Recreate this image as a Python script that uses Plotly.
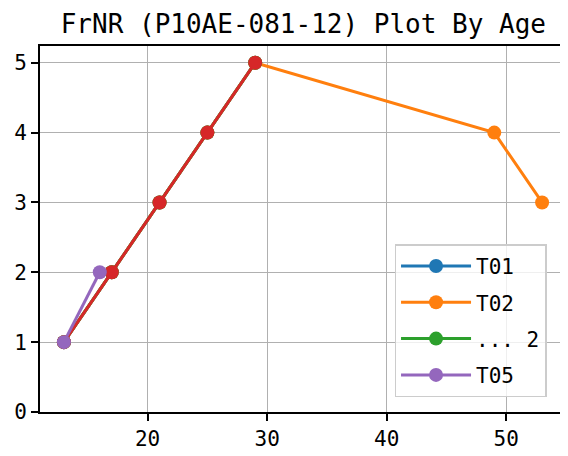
import plotly.graph_objects as go

# Data (age vs FrNR)
t01_age = [13, 17, 21, 25, 29]
t01_val = [1, 2, 3, 4, 5]
t02_age = [13, 17, 21, 25, 29, 49, 53]
t02_val = [1, 2, 3, 4, 5, 4, 3]
t03_age = [13, 17, 21, 25, 29]
t03_val = [1, 2, 3, 4, 5]
t04_age = [13, 17, 21, 25, 29]
t04_val = [1, 2, 3, 4, 5]
t05_age = [13, 16]
t05_val = [1, 2]

series = [
    ('T01', t01_age, t01_val, '#1f77b4', True),
    ('T02', t02_age, t02_val, '#ff7f0e', True),
    ('... 2', t03_age, t03_val, '#2ca02c', True),
    ('T04', t04_age, t04_val, '#d62728', False),
    ('T05', t05_age, t05_val, '#9467bd', True),
]

font = 'DejaVu Sans Mono, monospace'

fig = go.Figure()
for name, x, y, color, show in series:
    fig.add_trace(go.Scatter(x=x, y=y, name=name, mode='lines+markers', legendgroup=name,
                             line={'color': color, 'width': 3},
                             marker={'color': color, 'size': 14},
                             showlegend=show))

# page body adds ~8px offset, margins compensate
fig.update_layout(
    width=568, height=456,
    margin={'l': 32, 'r': 10, 't': 38, 'b': 52},
    plot_bgcolor='white', paper_bgcolor='white',
    font={'family': font, 'size': 21, 'color': 'black'},
    title={'text': 'FrNR (P10AE-081-12) Plot By Age', 'x': 0.52, 'xanchor': 'center',
           'y': 0.966, 'yanchor': 'middle', 'font': {'size': 26}},
    legend={'x': 0.963, 'xanchor': 'right', 'y': 0.04, 'yanchor': 'bottom',
            'bgcolor': 'rgba(255,255,255,0.8)', 'bordercolor': '#cccccc', 'borderwidth': 1.5,
            'font': {'size': 21}, 'tracegroupgap': 6, 'itemwidth': 70},
)
fig.update_xaxes(range=[11, 55], tickvals=[20, 30, 40, 50], showgrid=True, gridcolor='#b0b0b0',
                 gridwidth=1.3, showline=True, linecolor='black', linewidth=2, mirror=True,
                 automargin=False, ticks='outside', ticklen=7, tickwidth=1.5, tickcolor='black',
                 zeroline=False)
fig.update_yaxes(range=[0, 5.24], tickvals=[0, 1, 2, 3, 4, 5], showgrid=True, gridcolor='#b0b0b0',
                 gridwidth=1.3, showline=True, linecolor='black', linewidth=2, mirror=True,
                 automargin=False, ticks='outside', ticklen=7, tickwidth=1.5, tickcolor='black',
                 zeroline=False)

fig.write_html("out.html")
